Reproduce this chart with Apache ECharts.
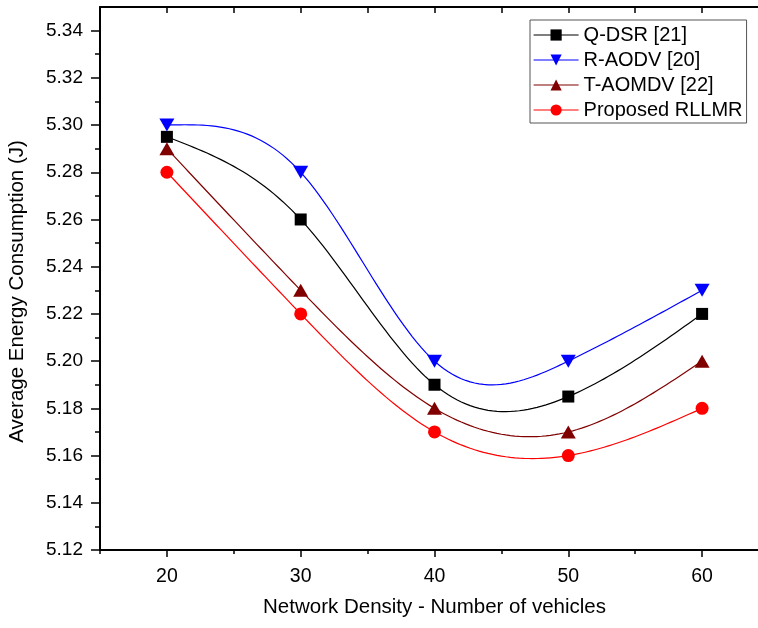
<!DOCTYPE html>
<html>
<head>
<meta charset="utf-8">
<script src="https://cdn.jsdelivr.net/npm/echarts@6/dist/echarts.min.js"></script>
<style>
  html, body { margin: 0; padding: 0; background: #fff; }
  #chart { width: 758px; height: 628px; }
</style>
</head>
<body>
<div id="chart"></div>
<script>
var density = [20, 30, 40, 50, 60];
var qdsr = [5.295, 5.26, 5.19, 5.185, 5.22];
var raodv = [5.30, 5.28, 5.20, 5.20, 5.23];
var taomdv = [5.29, 5.23, 5.18, 5.17, 5.20];
var rllmr = [5.28, 5.22, 5.17, 5.16, 5.18];

var xMajor = [20, 30, 40, 50, 60];
var xMinor = [15, 25, 35, 45, 55, 65];
var xTop = [15, 20, 25, 30, 35, 40, 45, 50, 55, 60, 65];
var yMajor = [5.12, 5.14, 5.16, 5.18, 5.20, 5.22, 5.24, 5.26, 5.28, 5.30, 5.32, 5.34];
var yMinor = [5.13, 5.15, 5.17, 5.19, 5.21, 5.23, 5.25, 5.27, 5.29, 5.31, 5.33];

var font = 'Liberation Sans, Arial, sans-serif';

var pairs = function (ys) {
    var res = [];
    for (var i = 0; i < density.length; i++) {
        res.push([density[i], ys[i]]);
    }
    return res;
};

// natural cubic spline second derivatives (like Origin's "spline" connect)
var splineM = function (xs, ys) {
    var n = xs.length, m = new Array(n).fill(0);
    var a = [], b = [], c = [], d = [];
    for (var i = 1; i < n - 1; i++) {
        var h0 = xs[i] - xs[i - 1], h1 = xs[i + 1] - xs[i];
        a.push(h0); b.push(2 * (h0 + h1)); c.push(h1);
        d.push(6 * ((ys[i + 1] - ys[i]) / h1 - (ys[i] - ys[i - 1]) / h0));
    }
    var k = d.length;
    for (var j = 1; j < k; j++) {
        var w = a[j] / b[j - 1];
        b[j] -= w * c[j - 1];
        d[j] -= w * d[j - 1];
    }
    for (var j2 = k - 1; j2 >= 0; j2--) {
        m[j2 + 1] = (d[j2] - (j2 < k - 1 ? c[j2] * m[j2 + 2] : 0)) / b[j2];
    }
    return m;
};

var splineAt = function (xs, ys, m, i, x) {
    var h = xs[i + 1] - xs[i];
    var A = (xs[i + 1] - x) / h, B = (x - xs[i]) / h;
    return A * ys[i] + B * ys[i + 1] +
        ((A * A * A - A) * m[i] + (B * B * B - B) * m[i + 1]) * h * h / 6;
};

var curveSeries = function (ys, color) {
    var m = splineM(density, ys);
    return {
        type: 'custom',
        name: 'curve',
        data: pairs(ys),
        encode: { x: 0, y: 1 },
        z: 1,
        silent: true,
        renderItem: function (params, api) {
            var i = params.dataIndex;
            if (i >= density.length - 1) return null;
            var pts = [];
            for (var s = 0; s <= 30; s++) {
                var x = density[i] + (density[i + 1] - density[i]) * s / 30;
                pts.push(api.coord([x, splineAt(density, ys, m, i, x)]));
            }
            return {
                type: 'polyline',
                shape: { points: pts },
                style: { stroke: color, lineWidth: 1.2, fill: 'none' }
            };
        }
    };
};

var markSeries = function (name, ys, color, symbol, size, rotate) {
    return {
        name: name,
        type: 'line',
        data: pairs(ys),
        symbol: symbol,
        symbolSize: size,
        symbolRotate: rotate || 0,
        showAllSymbol: true,
        z: 3,
        lineStyle: { color: color, width: 1.2, opacity: 0 },
        itemStyle: { color: color },
        emphasis: { disabled: true }
    };
};

var legendItem = function (name, color) {
    return { name: name, lineStyle: { color: color, width: 1.2, opacity: 1 } };
};

var chart = echarts.init(document.getElementById('chart'));
chart.setOption({
    animation: false,
    backgroundColor: '#fff',
    grid: { left: 100, top: 7, width: 669, bottom: 78, outerBoundsMode: 'none', containLabel: false },
    legend: {
        orient: 'vertical',
        left: 530,
        top: 20,
        padding: [5, 4, 3, 3],
        itemGap: 5,
        itemWidth: 45,
        itemHeight: 14,
        borderColor: '#555',
        borderWidth: 1,
        backgroundColor: '#fff',
        textStyle: { fontFamily: font, fontSize: 20, color: '#000' },
        data: [
            legendItem('Q-DSR [21]', '#000000'),
            legendItem('R-AODV [20]', '#0000ff'),
            legendItem('T-AOMDV [22]', '#800000'),
            legendItem('Proposed RLLMR', '#ff0000')
        ]
    },
    xAxis: [{
        type: 'value',
        min: 15,
        max: 65,
        position: 'bottom',
        name: 'Network Density - Number of vehicles',
        nameLocation: 'middle',
        nameGap: 47,
        nameTextStyle: { fontFamily: font, fontSize: 20.5, color: '#000' },
        axisLine: { lineStyle: { color: '#000', width: 2 } },
        axisTick: { customValues: xMajor, length: 7, lineStyle: { color: '#000', width: 1.5 } },
        axisLabel: { customValues: xMajor, margin: 17, fontFamily: font, fontSize: 19.5, color: '#000' },
        splitLine: { show: false }
    }, {
        type: 'value',
        min: 15,
        max: 65,
        position: 'bottom',
        axisLine: { show: false },
        axisTick: { customValues: xMinor, length: 4, lineStyle: { color: '#000', width: 1.5 } },
        axisLabel: { show: false },
        splitLine: { show: false }
    }, {
        type: 'value',
        min: 15,
        max: 65,
        position: 'top',
        axisLine: { lineStyle: { color: '#000', width: 2 } },
        axisTick: { customValues: xTop, inside: true, length: 6, lineStyle: { color: '#000', width: 1.5 } },
        axisLabel: { show: false },
        splitLine: { show: false }
    }],
    yAxis: [{
        type: 'value',
        min: 5.12,
        max: 5.35,
        position: 'left',
        name: 'Average Energy Consumption (J)',
        nameLocation: 'middle',
        nameGap: 72,
        nameTextStyle: { fontFamily: font, fontSize: 20.5, color: '#000', padding: [0, 26, 0, 0] },
        axisLine: { lineStyle: { color: '#000', width: 2 } },
        axisTick: { customValues: yMajor, length: 9, lineStyle: { color: '#000', width: 1.5 } },
        axisLabel: {
            customValues: yMajor,
            margin: 17,
            fontFamily: font,
            fontSize: 19,
            color: '#000',
            formatter: function (v) { return v.toFixed(2); }
        },
        splitLine: { show: false }
    }, {
        type: 'value',
        min: 5.12,
        max: 5.35,
        position: 'left',
        axisLine: { show: false },
        axisTick: { customValues: yMinor, length: 5, lineStyle: { color: '#000', width: 1.5 } },
        axisLabel: { show: false },
        splitLine: { show: false }
    }],
    series: [
        markSeries('Q-DSR [21]', qdsr, '#000000', 'rect', 12),
        markSeries('R-AODV [20]', raodv, '#0000ff', 'triangle', [15, 13], 180),
        markSeries('T-AOMDV [22]', taomdv, '#800000', 'triangle', [15, 13]),
        markSeries('Proposed RLLMR', rllmr, '#ff0000', 'circle', 13),
        curveSeries(qdsr, '#000000'),
        curveSeries(raodv, '#0000ff'),
        curveSeries(taomdv, '#800000'),
        curveSeries(rllmr, '#ff0000')
    ]
});
window.onresize = chart.resize;
</script>
</body>
</html>
